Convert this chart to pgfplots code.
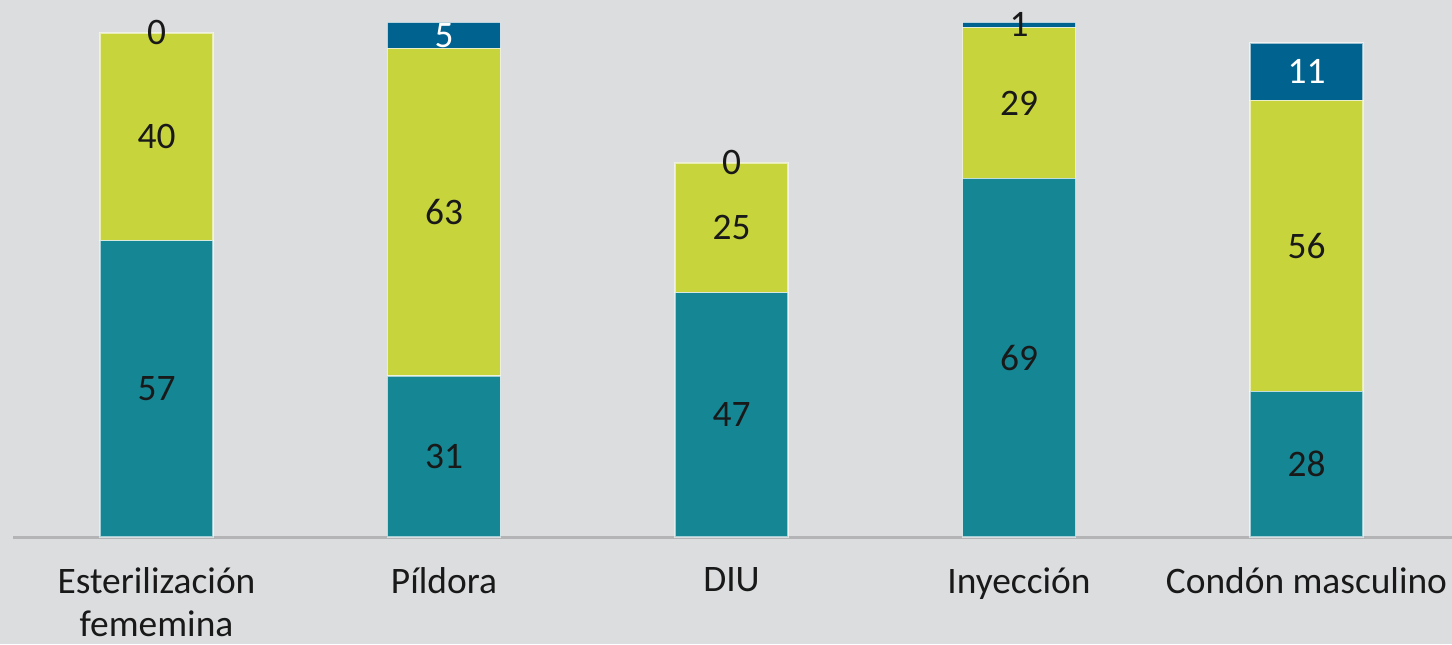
\documentclass[border=0pt]{standalone}
\usepackage{fontspec}
\setmainfont{Carlito}
\usepackage{pgfplots}
\pgfplotsset{compat=1.18}
\definecolor{bg}{RGB}{220,221,223}
\definecolor{cteal}{RGB}{20,134,148}
\definecolor{clime}{RGB}{200,212,60}
\definecolor{cblue}{RGB}{0,98,142}
\definecolor{cline}{RGB}{180,180,182}
\definecolor{ctext}{RGB}{25,25,25}
\begin{document}
\begin{tikzpicture}[font=\fontsize{18.7pt}{21.5pt}\selectfont]
\fill[bg] (0,0) rectangle (726pt,322pt);
\pgfplotsset{
  common/.style={
    at={(6.5pt,53.5pt)}, anchor=south west,
    scale only axis, width=719.5pt, height=268.5pt,
    xmin=-0.4991, xmax=4.5061, ymin=0, ymax=103.3,
  }
}
\begin{axis}[common,
  ybar stacked, bar width=56.5pt,
  axis x line=bottom, axis y line=none,
  x axis line style={-, draw=cline, line width=1.5pt},
  xtick={0,1,2,3,4}, xtick style={draw=none},
  xticklabels={{Esterilización\\fememina},Píldora,DIU,Inyección,{Condón masculino}},
  xticklabel style={align=center, text=ctext, yshift=-9.5pt},
  ytick=\empty,
  every axis plot/.append style={draw=white, draw opacity=0.6, line width=0.8pt},
]
\addplot[fill=cteal] coordinates {(0,57) (1,31) (2,47) (3,69) (4,28)};
\addplot[fill=clime] coordinates {(0,40) (1,63) (2,25) (3,29) (4,56)};
\addplot[fill=cblue] coordinates {(0,0) (1,5) (2,0) (3,1) (4,11)};
\end{axis}
\begin{axis}[common, hide axis]
\addplot[only marks, mark=none, nodes near coords, point meta=explicit symbolic,
  nodes near coords style={anchor=center, text=ctext, inner sep=0pt}]
  coordinates {(0,28.5)[57] (0,77)[40] (0,97)[0]
               (1,15.5)[31] (1,62.5)[63]
               (2,23.5)[47] (2,59.5)[25] (2,72)[0]
               (3,34.5)[69] (3,83.5)[29] (3,98.5)[1]
               (4,14)[28] (4,56)[56]};
\addplot[only marks, mark=none, nodes near coords, point meta=explicit symbolic,
  nodes near coords style={anchor=center, text=white, inner sep=0pt}]
  coordinates {(1,96.5)[5] (4,89.5)[11]};
\end{axis}
\pgfresetboundingbox
\useasboundingbox (0,0) rectangle (726pt,322pt);
\end{tikzpicture}
\end{document}
